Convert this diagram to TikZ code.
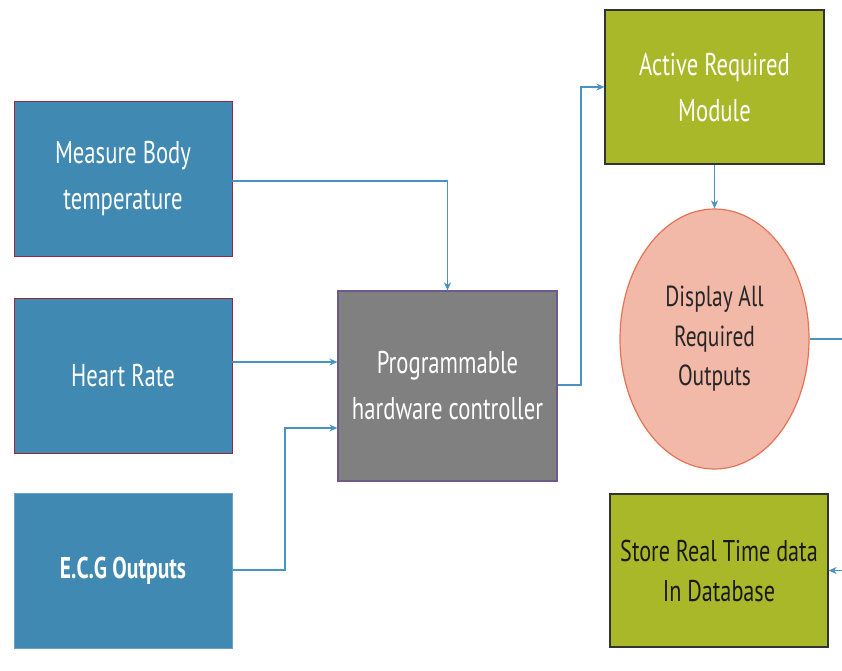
\documentclass[tikz,border=0pt]{standalone}
\usepackage{fontspec}
\setmainfont{PT Sans}[FakeStretch=0.72]
\newfontfamily\darkfont{PT Sans}[FakeStretch=0.74]
\usetikzlibrary{arrows.meta,shapes.geometric}
\definecolor{boxblue}{RGB}{64,137,178}
\definecolor{edgered}{RGB}{150,40,70}
\definecolor{edgeblue}{RGB}{110,160,195}
\definecolor{ctrlgray}{RGB}{128,128,128}
\definecolor{ctrledge}{RGB}{110,90,140}
\definecolor{modgreen}{RGB}{168,184,40}
\definecolor{elfill}{RGB}{242,184,168}
\definecolor{eledge}{RGB}{228,115,85}
\definecolor{wire}{RGB}{74,146,192}
\tikzset{
  bigtext/.style={font=\fontsize{31.5}{46}\selectfont},
  inbox/.style={draw=edgered, line width=1pt, fill=boxblue, text=white,
    minimum width=218pt, minimum height=155pt, align=center, bigtext},
  ctrlbox/.style={draw=ctrledge, line width=1.2pt, fill=ctrlgray, text=white,
    minimum width=219pt, minimum height=190pt, align=center, bigtext},
  greenbox/.style={draw=black!80, line width=1.2pt, fill=modgreen,
    minimum width=219pt, minimum height=154pt, align=center},
  dispnode/.style={ellipse, draw=eledge, line width=1.2pt, fill=elfill,
    minimum width=189pt, minimum height=260pt, inner sep=0pt, align=center,
    text=black!85, font=\darkfont\fontsize{29}{39.5}\selectfont},
  wirearrow/.style={draw=wire, line width=1.6pt,
    -{Stealth[length=8pt,width=7pt]}},
}
\begin{document}
\begin{tikzpicture}[x=1pt,y=-1pt]
\useasboundingbox (0,0) rectangle (842,670);
\clip (0,0) rectangle (842,670);

\node[inbox] (temp) at (123,178.5) {Measure Body\\temperature};
\node[inbox] (heart) at (123,375.5) {Heart Rate};
\node[inbox, draw=edgeblue, font=\bfseries\fontsize{30}{46}\selectfont] (ecg) at (123,571) {E.C.G Outputs};
\node[ctrlbox] (ctrl) at (447.5,386) {Programmable\\hardware controller};
\node[greenbox, text=white, bigtext] (act) at (714.5,87) {Active Required\\Module};
\node[dispnode] (disp) at (714.5,339) {Display All\\Required\\Outputs};
\node[greenbox, minimum width=218pt, minimum height=153pt, text=black!90,
  font=\darkfont\fontsize{30}{40}\selectfont] (store) at (719,570.5) {Store Real Time data\\In Database};

\coordinate (tempout) at (232,181);
\coordinate (heartout) at (232,362);
\coordinate (ecgbend) at (285,570);
\coordinate (ctrlout) at (581,385);
\coordinate (dispbend) at (870,339);

\draw[wirearrow] (tempout) -| (ctrl.north);
\draw[wirearrow] (heartout) -- (ctrl.west |- heartout);
\draw[wirearrow] (ecg.east |- ecgbend) -- (ecgbend) |- (ctrl.west |- 0,428);
\draw[wirearrow] (ctrl.east |- ctrlout) -- (ctrlout) |- (act.west);
\draw[wirearrow] (act.south) -- (disp.north);
\draw[wirearrow] (disp.east) -- (dispbend) |- (store.east);
\end{tikzpicture}
\end{document}
